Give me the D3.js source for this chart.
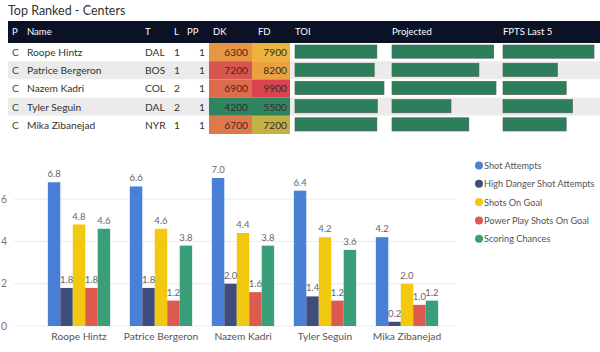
<!DOCTYPE html>
<html>
<head>
<meta charset="utf-8">
<script src="https://cdn.jsdelivr.net/npm/d3@7"></script>
<style>
  body { margin: 0; background: #fff; }
  svg { font-family: Lato, "Open Sans", sans-serif; }
</style>
</head>
<body>
<svg id="chart" width="600" height="352"></svg>
<script>
// table data
const positions = ["C", "C", "C", "C", "C"];
const players = ["Roope Hintz", "Patrice Bergeron", "Nazem Kadri", "Tyler Seguin", "Mika Zibanejad"];
const teams = ["DAL", "BOS", "COL", "DAL", "NYR"];
const lines = [1, 1, 2, 2, 1];
const ppUnits = [1, 1, 1, 1, 1];
const dkSalary = [6300, 7200, 6900, 4200, 6700];
const fdSalary = [7900, 8200, 9900, 5500, 7200];
const toi = [18.4, 17.8, 20.0, 18.5, 18.4];
const projected = [13.1, 11.2, 13.4, 7.6, 9.9];
const fptsLast5 = [14.4, 8.6, 10.0, 11.0, 10.0];

// chart data
const seriesNames = ["Shot Attempts", "High Danger Shot Attempts", "Shots On Goal", "Power Play Shots On Goal", "Scoring Chances"];
const shotAttempts = [6.8, 6.6, 7.0, 6.4, 4.2];
const highDanger = [1.8, 1.8, 2.0, 1.4, 0.2];
const shotsOnGoal = [4.8, 4.6, 4.4, 4.2, 2.0];
const ppShotsOnGoal = [1.8, 1.2, 1.6, 1.2, 1.0];
const scoringChances = [4.6, 3.8, 3.8, 3.6, 1.2];
const yTicks = [0, 2, 4, 6];

const seriesColors = ["#4a7fd8", "#3e4d7c", "#f2c811", "#dd5a50", "#3a9e78"];
const seriesValues = [shotAttempts, highDanger, shotsOnGoal, ppShotsOnGoal, scoringChances];

const svg = d3.select("#chart");

// title
svg.append("text")
    .attr("x", 8).attr("y", 15)
    .attr("font-size", 12.5)
    .attr("fill", "#333")
    .text("Top Ranked - Centers");

// table
const headerTop = 21, headerH = 22, rowH = 18.2;
const table = svg.append("g");
table.append("rect")
    .attr("x", 8).attr("y", headerTop)
    .attr("width", 592).attr("height", headerH)
    .attr("fill", "#0c1226");

const headers = [
    {label: "P", x: 12}, {label: "Name", x: 27}, {label: "T", x: 145},
    {label: "L", x: 174}, {label: "PP", x: 187}, {label: "DK", x: 213},
    {label: "FD", x: 258}, {label: "TOI", x: 295}, {label: "Projected", x: 392},
    {label: "FPTS Last 5", x: 503}
];
table.selectAll("text.hdr")
    .data(headers)
    .enter()
    .append("text")
    .attr("class", "hdr")
    .attr("x", d => d.x)
    .attr("y", headerTop + 14)
    .attr("font-size", 9.5)
    .attr("fill", "#fff")
    .text(d => d.label);

const rowY = i => headerTop + headerH + i * rowH;
const rows = d3.range(players.length);

table.selectAll("rect.rowbg")
    .data(rows)
    .enter()
    .append("rect")
    .attr("class", "rowbg")
    .attr("x", 8).attr("y", i => rowY(i))
    .attr("width", 592).attr("height", rowH)
    .attr("fill", i => i % 2 ? "#ebebeb" : "#fff");

// heat colours for salary cells
const dkColor = d3.scaleLinear()
    .domain([d3.min(dkSalary), (d3.min(dkSalary) + d3.max(dkSalary)) / 2, d3.max(dkSalary)])
    .range(["#2e8560", "#eec23c", "#d95550"]);
const fdColor = d3.scaleLinear()
    .domain([d3.min(fdSalary), (d3.min(fdSalary) + d3.max(fdSalary)) / 2, d3.max(fdSalary)])
    .range(["#2e8560", "#efbe3c", "#d9444e"]);

table.selectAll("rect.dk")
    .data(dkSalary)
    .enter()
    .append("rect")
    .attr("x", 209).attr("y", (d, i) => rowY(i))
    .attr("width", 43).attr("height", rowH)
    .attr("fill", d => dkColor(d));
table.selectAll("rect.fd")
    .data(fdSalary)
    .enter()
    .append("rect")
    .attr("x", 252).attr("y", (d, i) => rowY(i))
    .attr("width", 38).attr("height", rowH)
    .attr("fill", d => fdColor(d));

const cellText = (arr, x, anchor, color) => {
    table.append("g")
        .selectAll("text")
        .data(arr)
        .enter()
        .append("text")
        .attr("x", x)
        .attr("y", (d, i) => rowY(i) + 13)
        .attr("text-anchor", anchor)
        .attr("font-size", 10.2)
        .attr("fill", color)
        .text(d => d);
};
cellText(positions, 12, "start", "#444");
cellText(players, 27, "start", "#333");
cellText(teams, 145, "start", "#333");
cellText(lines, 174, "start", "#333");
cellText(ppUnits, 205, "end", "#333");
cellText(dkSalary, 248, "end", "#3a2a28");
cellText(fdSalary, 287, "end", "#3a2a28");

// data bars
const dataBars = (arr, x0, maxW) => {
    const w = d3.scaleLinear().domain([0, d3.max(arr)]).range([0, maxW]);
    table.append("g")
        .selectAll("rect")
        .data(arr)
        .enter()
        .append("rect")
        .attr("x", x0)
        .attr("y", (d, i) => rowY(i) + 2)
        .attr("width", d => w(d))
        .attr("height", rowH - 5)
        .attr("fill", "#2d7f5c")
        .attr("stroke", "#4a5a52")
        .attr("stroke-width", 0.6);
};
dataBars(toi, 295, 89);
dataBars(projected, 392, 104);
dataBars(fptsLast5, 503, 91);

// clustered column chart
const y = d3.scaleLinear().domain([0, 7]).range([326, 178]);
const x0 = d3.scaleBand().domain(players).range([38, 448]).paddingInner(0.24).paddingOuter(0.12);
const x1 = d3.scaleBand().domain(seriesNames).range([0, x0.bandwidth()]);

const chart = svg.append("g");
chart.selectAll("line.grid")
    .data(yTicks)
    .enter()
    .append("line")
    .attr("x1", 14).attr("x2", 456)
    .attr("y1", d => y(d)).attr("y2", d => y(d))
    .attr("stroke", "#ececec")
    .attr("stroke-width", 1);
chart.selectAll("text.ytick")
    .data(yTicks)
    .enter()
    .append("text")
    .attr("x", 4)
    .attr("y", d => y(d) + 3.5)
    .attr("text-anchor", "middle")
    .attr("font-size", 10.5)
    .attr("fill", "#777")
    .text(d => d);

const groups = chart.selectAll("g.grp")
    .data(players)
    .enter()
    .append("g")
    .attr("transform", d => `translate(${x0(d)},0)`);

groups.selectAll("rect")
    .data((p, i) => seriesNames.map((s, j) => ({s, v: seriesValues[j][i], c: seriesColors[j]})))
    .enter()
    .append("rect")
    .attr("x", d => x1(d.s))
    .attr("y", d => y(d.v))
    .attr("width", x1.bandwidth())
    .attr("height", d => y(0) - y(d.v))
    .attr("fill", d => d.c);

groups.selectAll("text")
    .data((p, i) => seriesNames.map((s, j) => ({s, v: seriesValues[j][i]})))
    .enter()
    .append("text")
    .attr("x", d => x1(d.s) + x1.bandwidth() / 2)
    .attr("y", d => y(d.v) - 5)
    .attr("text-anchor", "middle")
    .attr("font-size", 9.5)
    .attr("fill", "#666")
    .text(d => d.v.toFixed(1));

chart.selectAll("text.xlab")
    .data(players)
    .enter()
    .append("text")
    .attr("x", d => x0(d) + x0.bandwidth() / 2)
    .attr("y", 340)
    .attr("text-anchor", "middle")
    .attr("font-size", 10.2)
    .attr("fill", "#555")
    .text(d => d);

// legend
const legend = svg.append("g")
    .selectAll("g")
    .data(seriesNames)
    .enter()
    .append("g")
    .attr("transform", (d, i) => `translate(479,${165.5 + i * 18.3})`);
legend.append("circle")
    .attr("r", 4)
    .attr("fill", (d, i) => seriesColors[i]);
legend.append("text")
    .attr("x", 5)
    .attr("y", 3.5)
    .attr("font-size", 9.2)
    .attr("fill", "#555")
    .text(d => d);
</script>
</body>
</html>
